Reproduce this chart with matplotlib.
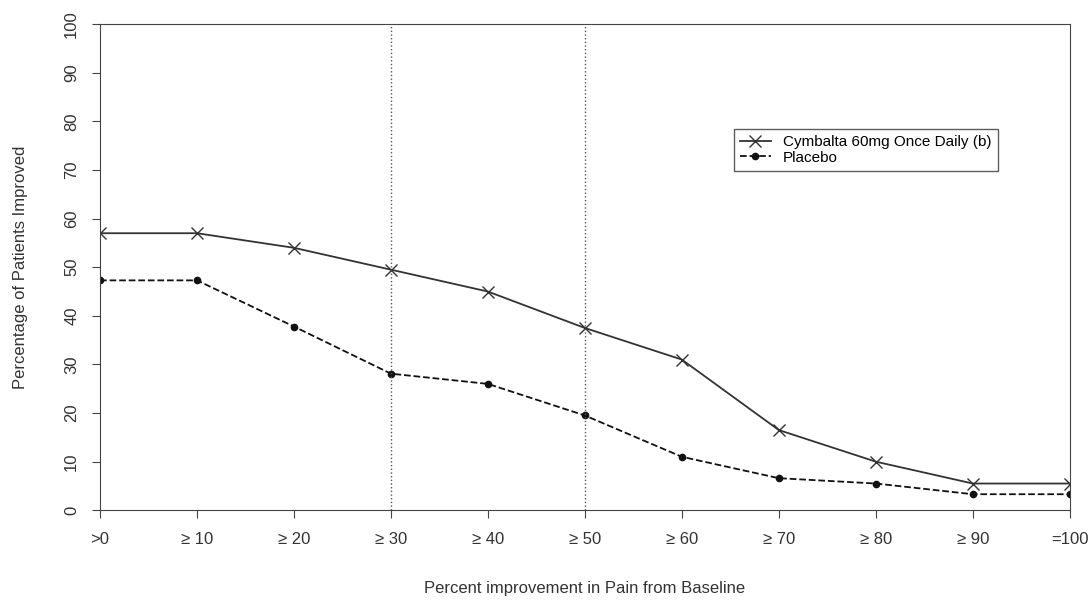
import matplotlib.pyplot as plt

plt.rcParams['font.family'] = ['Liberation Sans', 'DejaVu Sans']

labels = ['>0', '≥ 10', '≥ 20', '≥ 30', '≥ 40', '≥ 50', '≥ 60', '≥ 70', '≥ 80', '≥ 90', '=100']
cymbalta = [57, 57, 54, 49.5, 45, 37.5, 31, 16.5, 10, 5.5, 5.5]
placebo = [47.3, 47.3, 37.8, 28.1, 26, 19.5, 11, 6.6, 5.5, 3.3, 3.3]

fig = plt.figure(figsize=(10.92, 6.06), dpi=100)
ax = fig.add_axes([0.0916, 0.158, 0.888, 0.802])
x = list(range(len(labels)))
ax.plot(x, cymbalta, marker='x', markersize=8, linestyle='-', color='#333333', lw=1.3,
        label='Cymbalta 60mg Once Daily (b)')
ax.plot(x, placebo, marker='o', markersize=4.5, linestyle='--', color='#111111', lw=1.3,
        label='Placebo')
ax.axvline(3, color='#555555', ls=':', lw=1)
ax.axvline(5, color='#555555', ls=':', lw=1)

ax.set_xlim(0, 10)
ax.set_ylim(0, 100)
ax.set_xticks(x)
ax.set_xticklabels(labels, fontsize=12, color='#333333')
ax.set_yticks(range(0, 101, 10))
ax.set_yticklabels([str(v) for v in range(0, 101, 10)], rotation=90, va='center', fontsize=12, color='#333333')
ax.tick_params(length=6, color='#444444')
ax.tick_params(axis='x', pad=10)
ax.tick_params(axis='y', pad=9)
for s in ax.spines.values():
    s.set_color('#444444')
ax.set_xlabel('Percent improvement in Pain from Baseline', fontsize=12, color='#333333', labelpad=24)
ax.set_ylabel('Percentage of Patients Improved', fontsize=12, color='#333333', labelpad=26)
leg = ax.legend(loc='upper left', bbox_to_anchor=(0.646, 0.8), fontsize=11, fancybox=False,
                edgecolor='#333333', handlelength=2, borderpad=0.4, labelspacing=0.1)
leg.get_frame().set_linewidth(1)

fig.savefig('out.png')
